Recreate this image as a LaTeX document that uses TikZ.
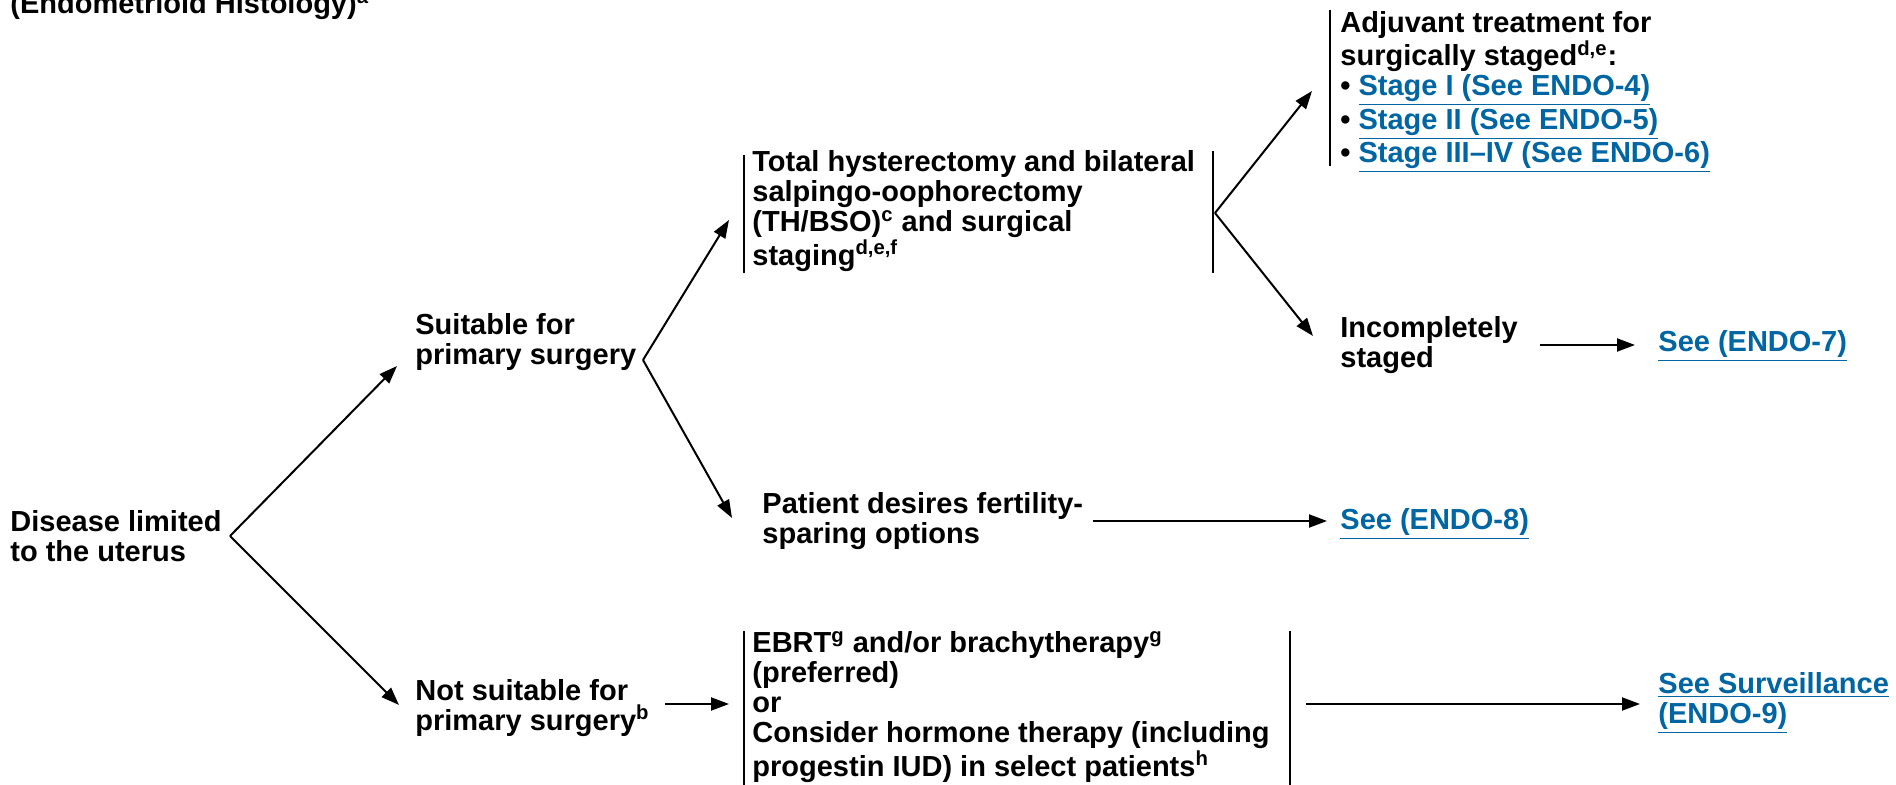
\documentclass[tikz,border=0pt]{standalone}
\usepackage{fontspec}
\setmainfont{Liberation Sans}
\usetikzlibrary{arrows.meta,positioning,calc}
\definecolor{linkblue}{RGB}{0,101,163}
\newcommand{\lnk}[1]{{\color{linkblue}\underline{#1}}}
\newcommand{\sups}[1]{\textsuperscript{#1}}

\begin{document}
\begin{tikzpicture}
            [
            x=0.5pt, y=-0.5pt,
            txt/.style={align=left, inner sep=0pt, anchor=west,
                font=\fontsize{14.5}{15}\selectfont\bfseries},
            arr/.style={line width=1pt, -{Triangle[length=9pt,width=6.5pt]}},
            bar/.style={line width=1pt}
            ]
            \useasboundingbox (0,0) rectangle (1896,785);
            \clip (0,0) rectangle (1896,785);

            \node (title) [txt, anchor=base west] at (10,14) {(Endometrioid Histology)\sups{a}};

            \node (dis) [txt] at (10,536) {Disease limited\\to the uterus};
            \node (suit) [txt] at (415,342) {Suitable for\\primary surgery};
            \node (notsuit) [txt] at (415,708) {Not suitable for\\primary surgery\sups{b}};

            \node (tot) [txt] at (752,211) {Total hysterectomy and bilateral\\salpingo-oophorectomy\\(TH/BSO)\sups{c} and surgical\\staging\sups{d,e,f}};
            \node (pat) [txt] at (762,521) {Patient desires fertility-\\sparing options};
            \node (ebrt) [txt] at (752,707) {EBRT\sups{g} and/or brachytherapy\sups{g}\\(preferred)\\or\\Consider hormone therapy (including\\progestin IUD) in select patients\sups{h}};

            \node (adj) [txt] at (1340,92) {Adjuvant treatment for\\surgically staged\sups{d,e}:\\\textbullet\ \lnk{Stage I (See ENDO-4)}\\\textbullet\ \lnk{Stage II (See ENDO-5)}\\\textbullet\ \lnk{Stage III–IV (See ENDO-6)}};
            \node (inc) [txt] at (1340,345) {Incompletely\\staged};
            \node (e7) [txt] at (1658,346) {\lnk{See (ENDO-7)}};
            \node (e8) [txt] at (1340,524) {\lnk{See (ENDO-8)}};
            \node (surv) [txt] at (1658,703) {\lnk{See Surveillance}\\\lnk{(ENDO-9)}};

            % Bars round the treatment blocks
            \draw [bar] (744,155) -- (744,273);
            \draw [bar] (1213,151) -- (1213,273);
            \draw [bar] (1330,10) -- (1330,166);
            \draw [bar] (744,631) -- (744,790);
            \draw [bar] (1290,631) -- (1290,790);

            % Fork points and arrow ends
            \coordinate (disF) at (230,536);
            \coordinate (suitT) at (397,366);
            \coordinate (notT) at (399,705);
            \coordinate (suitF) at (643,360);
            \coordinate (totT) at (729,220);
            \coordinate (patT) at (732,518);
            \coordinate (totF) at (1215,213);
            \coordinate (adjT) at (1312,91);
            \coordinate (incT) at (1313,336);
            \coordinate (ebrtF) at (1290,704);

            \foreach \i/\j in {disF/suitT,disF/notT,suitF/totT,suitF/patT,totF/adjT,totF/incT}
            \draw [arr] (\i) -- (\j);

            \draw [arr] ([xshift=7.5pt]notsuit.east |- ebrtF) -- ([xshift=-11.5pt]ebrtF -| ebrt.west);
            \draw [arr] ([xshift=8pt]ebrtF) -- ([xshift=-9pt]ebrtF -| surv.west);
            \draw [arr] ([xshift=4.5pt]pat.east) -- ([xshift=-6.5pt]pat.east -| e8.west);
            \draw [arr] ([xshift=11pt]inc.east) -- ([xshift=-11.5pt]inc.east -| e7.west);
        \end{tikzpicture}
\end{document}
